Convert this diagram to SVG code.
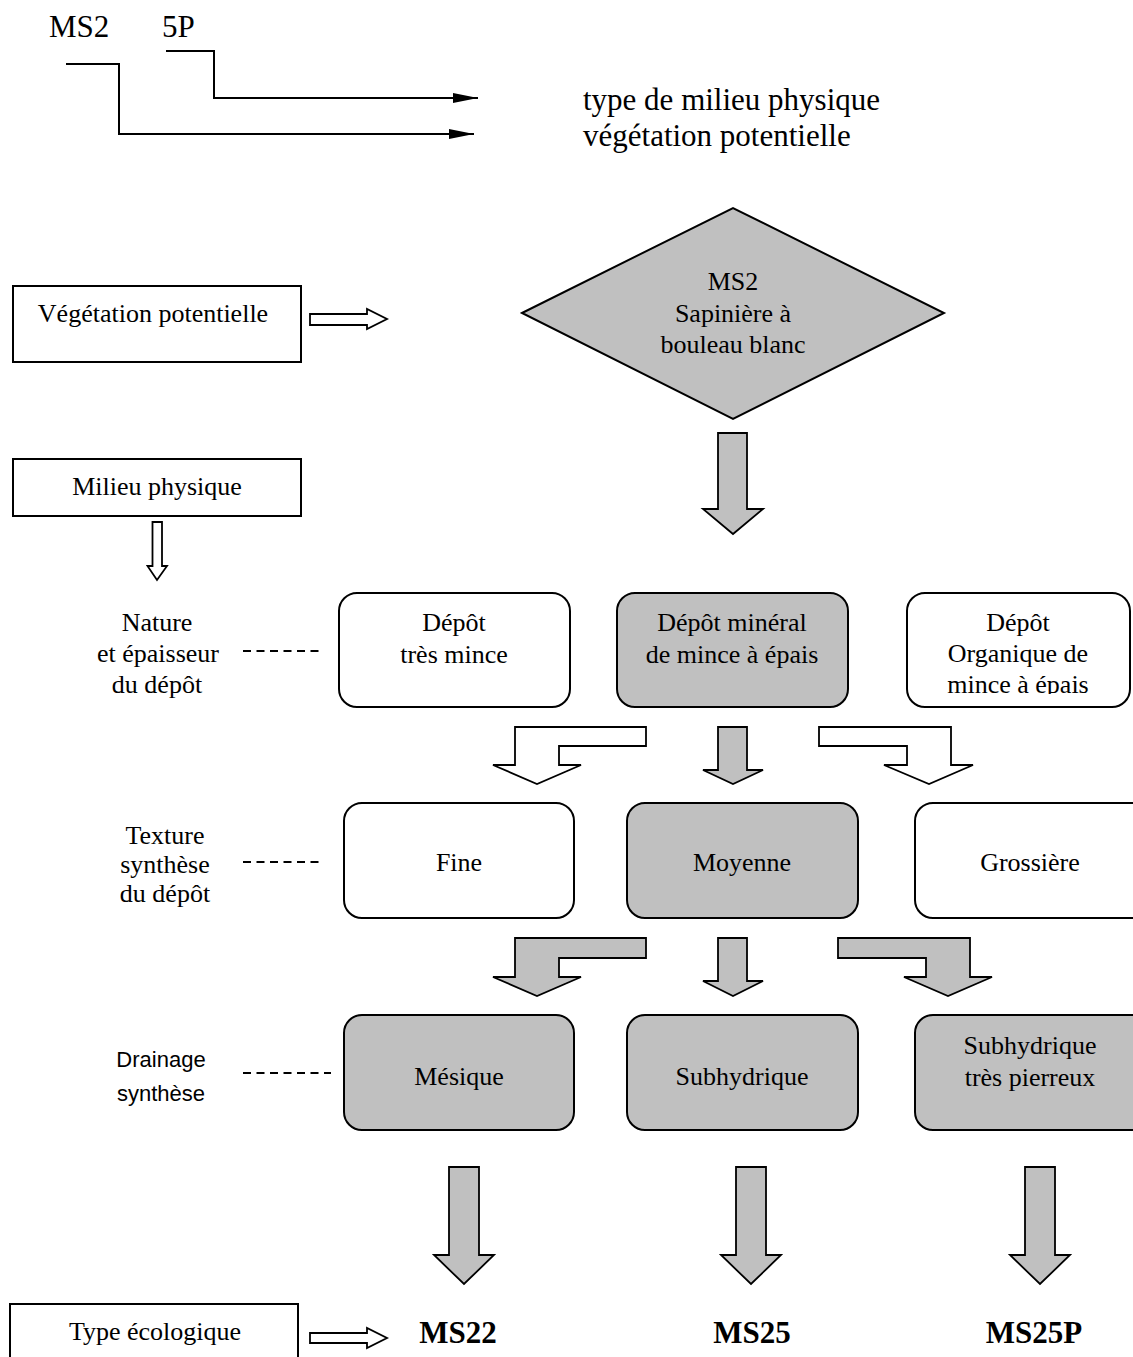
<svg xmlns="http://www.w3.org/2000/svg" width="1133" height="1357" viewBox="0 0 1133 1357">
<style>
.t{font-family:"Liberation Serif","Times New Roman",serif;font-size:26px;fill:#000;text-anchor:middle}
.lg{font-family:"Liberation Serif","Times New Roman",serif;font-size:31px;fill:#000}
.sans{font-family:"Liberation Sans",Arial,sans-serif;font-size:22px;fill:#000;text-anchor:middle}
.b{font-family:"Liberation Serif","Times New Roman",serif;font-size:31px;font-weight:bold;fill:#000;text-anchor:middle}
.w{fill:#fff;stroke:#000;stroke-width:2}
.g{fill:#c0c0c0;stroke:#000;stroke-width:2}
.sq{fill:#fff;stroke:#000;stroke-width:2}
.ha{fill:#fff;stroke:#000;stroke-width:1.8;stroke-linejoin:miter}
.ga{fill:#c0c0c0;stroke:#000;stroke-width:1.8;stroke-linejoin:miter}
.ln{fill:none;stroke:#000;stroke-width:2}
.dash{fill:none;stroke:#000;stroke-width:2;stroke-dasharray:8 5.5}
</style>
<defs>
<marker id="ah" markerUnits="userSpaceOnUse" markerWidth="26" markerHeight="12" refX="25" refY="6" orient="auto">
<path d="M0,1 L25,6 L0,11 Z" fill="#000"/>
</marker>
<clipPath id="clipOrg"><rect x="907" y="593" width="226" height="101"/></clipPath>
</defs>
<rect width="1133" height="1357" fill="#fff"/>

<g id="legend">
<text class="lg" x="49" y="37">MS2</text>
<text class="lg" x="162" y="37">5P</text>
<text class="lg" x="583" y="110">type de milieu physique</text>
<text class="lg" x="583" y="146">végétation potentielle</text>
</g>

<g id="connectors">
<polyline class="ln" points="166,51 214,51 214,98 478,98" marker-end="url(#ah)"/>
<polyline class="ln" points="66,64 119,64 119,134 474,134" marker-end="url(#ah)"/>
<polygon class="ha" points="310,314 367,314 367,309 387,319 367,329 367,325 310,325"/>
<polygon class="ha" points="152.5,522 162,522 162,566 167,566 157,580 147.5,566 152.5,566"/>
<polygon class="ha" points="310,1333 367,1333 367,1328 387,1338 367,1348 367,1343 310,1343"/>
<line class="dash" x1="243" y1="651" x2="320" y2="651"/>
<line class="dash" x1="243" y1="862" x2="320" y2="862"/>
<line class="dash" x1="243" y1="1073" x2="331" y2="1073"/>
<polygon class="ga" points="718,433 747,433 747,509 763,509 733,534 703,509 718,509"/>
<polygon class="ha" points="515,727 646,727 646,746 559,746 559,765 581,765 537,784 493,765 515,765"/>
<polygon class="ga" points="718,727 747,727 747,770 763,770 733,784 703,770 718,770"/>
<polygon class="ha" points="819,727 951,727 951,765 973,765 929,784 884,765 907,765 907,746 819,746"/>
<polygon class="ga" points="515,938 646,938 646,958 559,958 559,977 581,977 537,996 493,977 515,977"/>
<polygon class="ga" points="718,938 747,938 747,981 763,981 733,996 703,981 718,981"/>
<polygon class="ga" points="838,938 970,938 970,977 992,977 948,996 904,977 926,977 926,958 838,958"/>
<polygon class="ga" points="449,1167 479,1167 479,1255 494,1255 464,1284 434,1255 449,1255"/>
<polygon class="ga" points="736,1167 766,1167 766,1255 781,1255 751,1284 721,1255 736,1255"/>
<polygon class="ga" points="1025,1167 1055,1167 1055,1255 1070,1255 1040,1284 1010,1255 1025,1255"/>
</g>

<g id="veg-potentielle">
<rect class="sq" x="13" y="286" width="288" height="76"/>
<text class="t" x="153" y="322">Végétation potentielle</text>
</g>
<g id="milieu-physique">
<rect class="sq" x="13" y="459" width="288" height="57"/>
<text class="t" x="157" y="495">Milieu physique</text>
</g>
<g id="ms2">
<polygon class="g" points="522,313 733,208 944,313 733,419"/>
<text class="t" x="733" y="290">MS2</text>
<text class="t" x="733" y="322">Sapinière à</text>
<text class="t" x="733" y="353">bouleau blanc</text>
</g>

<g id="lbl-nature">
<text class="t" x="157" y="631">Nature</text>
<text class="t" x="158" y="662">et épaisseur</text>
<text class="t" x="157" y="693">du dépôt</text>
</g>
<g id="lbl-texture">
<text class="t" x="165" y="844">Texture</text>
<text class="t" x="165" y="873">synthèse</text>
<text class="t" x="165" y="902">du dépôt</text>
</g>
<g id="lbl-drainage">
<text class="sans" x="161" y="1067">Drainage</text>
<text class="sans" x="161" y="1101">synthèse</text>
</g>

<g id="depot-tres-mince">
<rect class="w" x="339" y="593" width="231" height="114" rx="18"/>
<text class="t" x="454" y="631">Dépôt</text>
<text class="t" x="454" y="663">très mince</text>
</g>
<g id="depot-mineral">
<rect class="g" x="617" y="593" width="231" height="114" rx="18"/>
<text class="t" x="732" y="631">Dépôt minéral</text>
<text class="t" x="732" y="663">de mince à épais</text>
</g>
<g id="depot-organique">
<rect class="w" x="907" y="593" width="223" height="114" rx="18"/>
<g clip-path="url(#clipOrg)">
<text class="t" x="1018" y="631">Dépôt</text>
<text class="t" x="1018" y="662">Organique de</text>
<text class="t" x="1018" y="693">mince à épais</text>
</g>
</g>

<g id="fine">
<rect class="w" x="344" y="803" width="230" height="115" rx="18"/>
<text class="t" x="459" y="871">Fine</text>
</g>
<g id="moyenne">
<rect class="g" x="627" y="803" width="231" height="115" rx="18"/>
<text class="t" x="742" y="871">Moyenne</text>
</g>
<g id="grossiere">
<rect class="w" x="915" y="803" width="240" height="115" rx="18"/>
<text class="t" x="1030" y="871">Grossière</text>
</g>

<g id="mesique">
<rect class="g" x="344" y="1015" width="230" height="115" rx="18"/>
<text class="t" x="459" y="1085">Mésique</text>
</g>
<g id="subhydrique">
<rect class="g" x="627" y="1015" width="231" height="115" rx="18"/>
<text class="t" x="742" y="1085">Subhydrique</text>
</g>
<g id="subhydrique-pierreux">
<rect class="g" x="915" y="1015" width="240" height="115" rx="18"/>
<text class="t" x="1030" y="1054">Subhydrique</text>
<text class="t" x="1030" y="1086">très pierreux</text>
</g>

<g id="type-ecologique">
<rect class="sq" x="10" y="1304" width="288" height="70"/>
<text class="t" x="155" y="1340">Type écologique</text>
</g>
<g id="ms22"><text class="b" x="458" y="1343">MS22</text></g>
<g id="ms25"><text class="b" x="752" y="1343">MS25</text></g>
<g id="ms25p"><text class="b" x="1034" y="1343">MS25P</text></g>
</svg>
